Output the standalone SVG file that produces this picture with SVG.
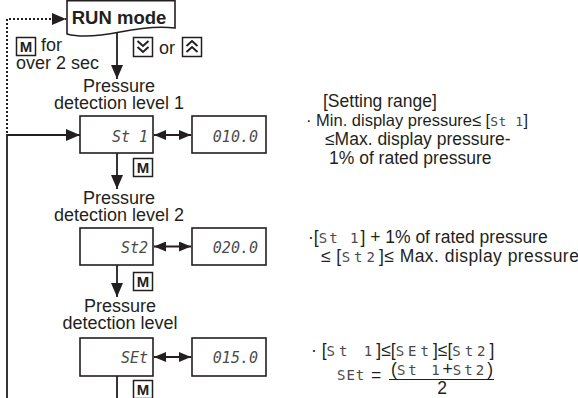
<svg xmlns="http://www.w3.org/2000/svg" width="578" height="398" viewBox="0 0 578 398">
<defs>
<style>
.lbl{font-family:"Liberation Sans",Arial,sans-serif;font-size:18px;fill:#231f20}
.rt{font-family:"Liberation Sans",Arial,sans-serif;font-size:17.5px;fill:#231f20}
.seg{font-family:"DejaVu Sans Mono","Liberation Mono",monospace;font-style:italic;fill:#4a4a4a}
.iseg{font-family:"DejaVu Sans Mono","Liberation Mono",monospace;font-size:14px;letter-spacing:2px;fill:#4a4a4a}
.box{fill:#fff;stroke:#231f20;stroke-width:1.6}
.key{fill:#fff;stroke:#231f20;stroke-width:1.5}
.keyt{font-family:"Liberation Sans",Arial,sans-serif;font-weight:bold;font-size:15px;fill:#231f20}
.ln{fill:none;stroke:#231f20;stroke-width:1.8}
.dot{fill:none;stroke:#231f20;stroke-width:2;stroke-dasharray:2 2}
.chev{fill:none;stroke:#231f20;stroke-width:2}
</style>
<marker id="ah" viewBox="0 0 14 12" refX="14" refY="6" markerWidth="14" markerHeight="12" markerUnits="userSpaceOnUse" orient="auto-start-reverse">
<path d="M0,0 L14,6 L0,12 Z" fill="#231f20"/>
</marker>
<marker id="ah2" viewBox="0 0 12 10" refX="12" refY="5" markerWidth="12" markerHeight="10" markerUnits="userSpaceOnUse" orient="auto-start-reverse">
<path d="M0,0 L12,5 L0,10 Z" fill="#231f20"/>
</marker>
</defs>
<rect width="578" height="398" fill="#fff"/>

<g id="connectors">
<line class="ln" x1="117" y1="32" x2="117" y2="79" marker-end="url(#ah)"/>
<line class="ln" x1="117" y1="153" x2="117" y2="189" marker-end="url(#ah)"/>
<line class="ln" x1="117" y1="265" x2="117" y2="297" marker-end="url(#ah)"/>
<line class="ln" x1="117" y1="376" x2="117" y2="398"/>
<polyline class="ln" points="7,398 7,135 80,135" marker-end="url(#ah)"/>
<polyline class="dot" points="7,133 7,19 66,19" marker-end="url(#ah)"/>
<line class="ln" x1="154" y1="135" x2="191" y2="135" marker-start="url(#ah2)" marker-end="url(#ah2)"/>
<line class="ln" x1="154" y1="246.5" x2="191" y2="246.5" marker-start="url(#ah2)" marker-end="url(#ah2)"/>
<line class="ln" x1="154" y1="357" x2="191" y2="357" marker-start="url(#ah2)" marker-end="url(#ah2)"/>
</g>

<g id="run-mode">
<path class="box" d="M67,0.8 H175 V28 C158,26 140,28 120,32 C100,36 82,38 67,34 Z"/>
<text x="119" y="24" text-anchor="middle" style="font-family:'Liberation Sans',Arial,sans-serif;font-weight:bold;font-size:18.5px;fill:#231f20">RUN mode</text>
</g>

<g id="m-for-2sec">
<rect class="key" x="16.5" y="37.5" width="19" height="18"/>
<text class="keyt" x="26" y="52" text-anchor="middle">M</text>
<text class="lbl" x="41" y="51">for</text>
<text class="lbl" x="16" y="69">over 2 sec</text>
</g>

<g id="up-down-keys">
<rect class="key" x="133.5" y="37.5" width="19" height="19"/>
<polyline class="chev" points="137.5,41 143,46 148.5,41"/>
<polyline class="chev" points="137.5,47 143,52 148.5,47"/>
<text class="lbl" x="159" y="54">or</text>
<rect class="key" x="182.5" y="37.5" width="19" height="19"/>
<polyline class="chev" points="186.5,46 192,41 197.5,46"/>
<polyline class="chev" points="186.5,52 192,47 197.5,52"/>
</g>

<g id="level1">
<text class="lbl" x="119" y="92" text-anchor="middle">Pressure</text>
<text class="lbl" x="119" y="109" text-anchor="middle">detection level 1</text>
<rect class="box" x="80" y="116" width="73" height="37"/>
<text class="seg" x="148" y="142" font-size="15" text-anchor="end">St 1</text>
</g>
<g id="value1">
<rect class="box" x="192" y="116" width="74" height="37"/>
<text class="seg" x="258" y="142" font-size="15" text-anchor="end">010.0</text>
</g>
<g id="key-m1">
<rect class="key" x="133.5" y="158.5" width="19" height="18"/>
<text class="keyt" x="143" y="173" text-anchor="middle">M</text>
</g>

<g id="level2">
<text class="lbl" x="119" y="204" text-anchor="middle">Pressure</text>
<text class="lbl" x="119" y="221" text-anchor="middle">detection level 2</text>
<rect class="box" x="80" y="228" width="73" height="37"/>
<text class="seg" x="148" y="253" font-size="15" text-anchor="end">St2</text>
</g>
<g id="value2">
<rect class="box" x="192" y="228" width="74" height="37"/>
<text class="seg" x="258" y="253" font-size="15" text-anchor="end">020.0</text>
</g>
<g id="key-m2">
<rect class="key" x="133.5" y="272.5" width="19" height="18"/>
<text class="keyt" x="143" y="287" text-anchor="middle">M</text>
</g>

<g id="level3">
<text class="lbl" x="120" y="312" text-anchor="middle">Pressure</text>
<text class="lbl" x="120" y="329" text-anchor="middle">detection level</text>
<rect class="box" x="80" y="338" width="73" height="38"/>
<text class="seg" x="148" y="363" font-size="15" text-anchor="end">SEt</text>
</g>
<g id="value3">
<rect class="box" x="192" y="338" width="74" height="38"/>
<text class="seg" x="258" y="363" font-size="15" text-anchor="end">015.0</text>
</g>
<g id="key-m3">
<rect class="key" x="133.5" y="380.5" width="19" height="18"/>
<text class="keyt" x="143" y="395" text-anchor="middle">M</text>
</g>

<g id="range-notes">
<text class="rt" x="323" y="107">[Setting range]</text>
<text class="rt" x="306" y="126" style="font-size:16.5px">· Min. display pressure≤ [<tspan class="iseg" style="font-size:13px;letter-spacing:0.5px">St 1</tspan>]</text>
<text class="rt" x="325" y="145">≤Max. display pressure-</text>
<text class="rt" x="329" y="164">1% of rated pressure</text>
<text class="rt" x="308" y="243">·[<tspan class="iseg">St 1</tspan>] + 1% of rated pressure</text>
<text class="rt" x="321" y="262" style="letter-spacing:0.45px">≤ [<tspan class="iseg" style="letter-spacing:4px">St2</tspan>]≤ Max. display pressure</text>
<text class="rt" x="311" y="356">·  [<tspan class="iseg" style="letter-spacing:4px">St 1</tspan>]≤[<tspan class="iseg" style="letter-spacing:4px">SEt</tspan>]≤[<tspan class="iseg" style="letter-spacing:4px">St2</tspan>]</text>
<text class="iseg" x="337" y="380" style="letter-spacing:1px">SEt</text>
<text class="rt" x="371" y="381">=</text>
<text class="rt" x="442" y="375" text-anchor="middle">(<tspan class="iseg" style="letter-spacing:3px">St 1</tspan>+<tspan class="iseg" style="letter-spacing:3px">St2</tspan>)</text>
<line x1="389" y1="379.5" x2="494" y2="379.5" stroke="#231f20" stroke-width="1.2"/>
<text class="rt" x="442" y="394" text-anchor="middle">2</text>
</g>
</svg>
